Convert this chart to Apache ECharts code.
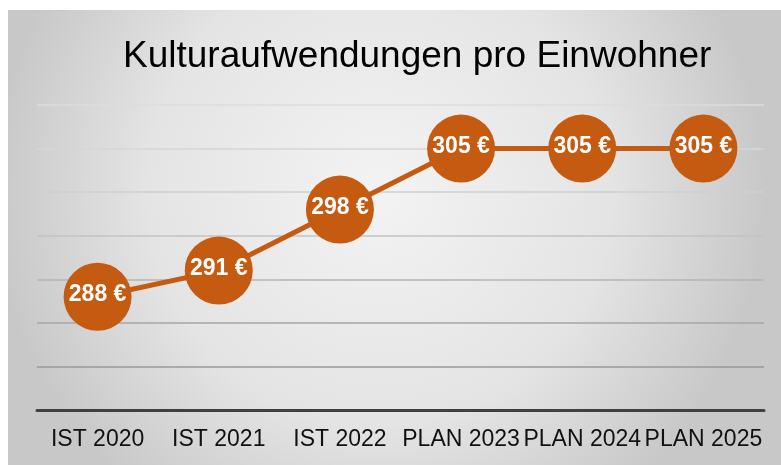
<!DOCTYPE html>
<html>
<head>
<meta charset="utf-8">
<script src="https://cdn.jsdelivr.net/npm/echarts@6/dist/echarts.min.js"></script>
<style>
  html, body { margin: 0; padding: 0; background: #fff; }
  #chart { width: 781px; height: 465px; }
</style>
</head>
<body>
<div id="chart"></div>
<script>
// Daten
const categories = ['IST 2020', 'IST 2021', 'IST 2022', 'PLAN 2023', 'PLAN 2024', 'PLAN 2025']
const values = [288, 291, 298, 305, 305, 305]
const yMin = 275
const yMax = 310
const yStep = 5

const orange = '#C55A11'
const font = '"Liberation Sans", Arial, sans-serif'

let myChart = echarts.init(document.getElementById('chart'))
myChart.setOption({
  animation: false,
  backgroundColor: '#ffffff',
  graphic: [{
    type: 'rect',
    z: -10,
    silent: true,
    shape: { x: 8, y: 10, width: 773, height: 455 },
    style: {
      fill: {
        type: 'radial', x: 0.48, y: 0.4, r: 0.85,
        colorStops: [
          { offset: 0, color: '#f3f3f3' },
          { offset: 0.6, color: '#e4e4e4' },
          { offset: 1, color: '#c8c8c8' }
        ]
      }
    }
  }],
  title: {
    text: 'Kulturaufwendungen pro Einwohner',
    left: 118,
    top: 33,
    textStyle: { fontFamily: font, fontSize: 37, fontWeight: 'normal', color: '#000' }
  },
  grid: { left: 37, right: 17, top: 105, bottom: 55 },
  xAxis: {
    type: 'category',
    data: categories,
    boundaryGap: true,
    axisLine: { lineStyle: { color: '#404040', width: 3 } },
    axisTick: { show: false },
    axisLabel: { fontFamily: font, fontSize: 23, color: '#111', margin: 18, interval: 0 }
  },
  yAxis: {
    type: 'value',
    min: yMin,
    max: yMax,
    interval: yStep,
    axisLabel: { show: false },
    axisLine: { show: false },
    axisTick: { show: false },
    splitLine: {
      lineStyle: {
        width: 1.5,
        // von unten nach oben heller
        color: ['#404040', '#999999', '#a6a6a6', '#b4b4b4', '#c3c3c3', '#cfcfcf', '#d6d6d6', '#dcdcdc']
      }
    }
  },
  series: [{
    type: 'line',
    data: values,
    symbol: 'circle',
    symbolSize: 68,
    itemStyle: { color: orange },
    lineStyle: { color: orange, width: 5 },
    label: {
      show: true,
      position: 'inside',
      offset: [0, -2],
      formatter: '{c} €',
      fontFamily: font,
      fontSize: 23,
      fontWeight: 'bold',
      color: '#fff'
    }
  }]
})
</script>
</body>
</html>
